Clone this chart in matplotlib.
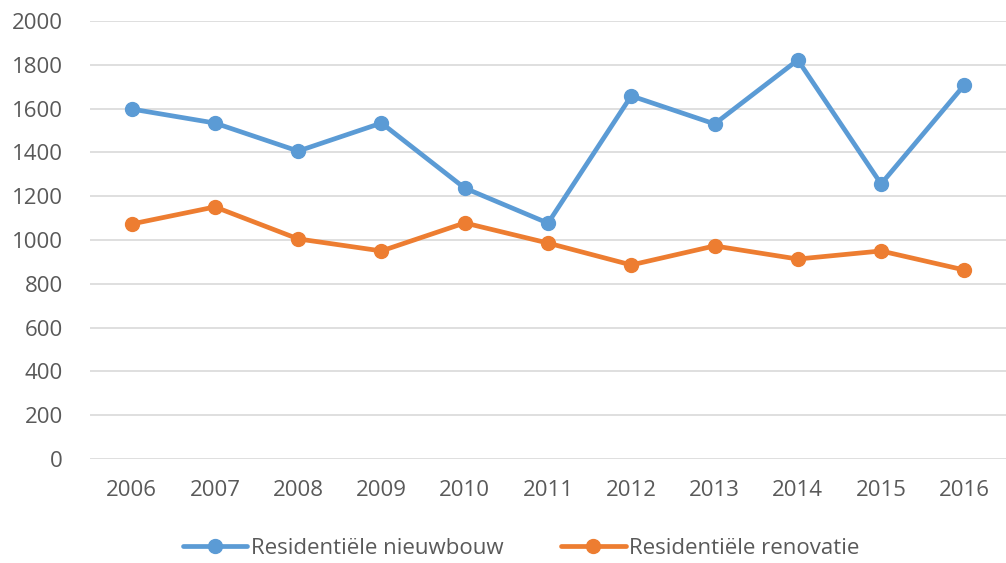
import matplotlib
matplotlib.use("Agg")
import matplotlib.pyplot as plt

years = ["2006", "2007", "2008", "2009", "2010", "2011", "2012", "2013", "2014", "2015", "2016"]
nieuwbouw = [1598, 1534, 1406, 1534, 1237, 1077, 1658, 1530, 1822, 1256, 1708]
renovatie = [1073, 1151, 1005, 950, 1078, 986, 886, 973, 913, 950, 863]
series_names = ["Residentiële nieuwbouw", "Residentiële renovatie"]
yticks = [0, 200, 400, 600, 800, 1000, 1200, 1400, 1600, 1800, 2000]

plt.rcParams['font.family'] = ['Open Sans', 'DejaVu Sans']
fig = plt.figure(figsize=(10.06, 5.63), dpi=100)
ax = fig.add_axes([90/1006, 1-459/563, (1006-90)/1006, (459-21)/563])

x = list(range(len(years)))
ax.plot(x, nieuwbouw, color="#5B9BD5", lw=3.4, marker="o", markersize=10, label=series_names[0], solid_capstyle="round")
ax.plot(x, renovatie, color="#ED7D31", lw=3.4, marker="o", markersize=10, label=series_names[1], solid_capstyle="round")

ax.set_xlim(-0.5, len(years) - 0.5)
ax.set_ylim(0, 2000)
ax.set_yticks(yticks)
ax.set_xticks(x)
ax.set_xticklabels(years)
ax.grid(axis="y", color="#D9D9D9", lw=1.2)
ax.set_axisbelow(True)
for s in ax.spines.values():
    s.set_visible(False)
ax.tick_params(axis="both", length=0, colors="#595959", labelsize=16)
ax.tick_params(axis="x", pad=15)
ax.tick_params(axis="y", pad=19.5)

leg = fig.legend(loc="center", bbox_to_anchor=(0.518, 1-548/563), ncol=2, frameon=False,
                 fontsize=16, handlelength=2.9, columnspacing=2.6, handletextpad=0.15)
for t in leg.get_texts():
    t.set_color("#595959")

fig.savefig("out.png", dpi=100)
